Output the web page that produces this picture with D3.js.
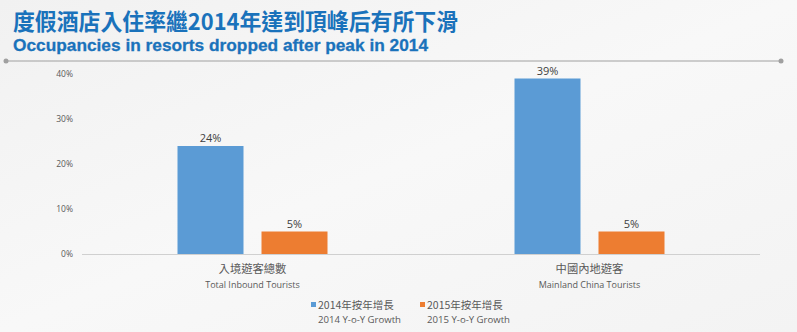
<!DOCTYPE html>
<html>
<head>
<meta charset="utf-8">
<script src="https://cdn.jsdelivr.net/npm/d3@7"></script>
<style>
html,body{margin:0;padding:0;background:#f5f5f5;}
svg{display:block;}
</style>
</head>
<body>
<svg id="chart" width="797" height="332"></svg>
<script>
const categoriesZh = ["入境遊客總數", "中國內地遊客"];
const categoriesEn = ["Total Inbound Tourists", "Mainland China Tourists"];
const seriesZh = ["2014年按年增長", "2015年按年增長"];
const seriesEn = ["2014 Y-o-Y Growth", "2015 Y-o-Y Growth"];
const values2014 = [24, 39];
const values2015 = [5, 5];
const yTicks = [0, 10, 20, 30, 40];
const colors = ["#5b9bd5", "#ed7d31"];

const svg = d3.select("#chart");
const W = 797, H = 332;

const bg = svg.append("defs").append("linearGradient").attr("id","bg").attr("x1",0).attr("y1",0).attr("x2",1).attr("y2",1);
bg.append("stop").attr("offset","0%").attr("stop-color","#f1f1f1");
bg.append("stop").attr("offset","50%").attr("stop-color","#f8f8f8");
bg.append("stop").attr("offset","100%").attr("stop-color","#f3f3f3");
svg.append("rect").attr("width",W).attr("height",H).attr("fill","url(#bg)");

// Titles
svg.append("text").attr("x",13).attr("y",30)
  .attr("font-family","'Noto Sans CJK TC','Noto Sans CJK SC',sans-serif")
  .attr("font-weight","bold").attr("font-size",22.5).attr("fill","#1a72bb")
  .attr("textLength",445).attr("lengthAdjust","spacingAndGlyphs")
  .text("度假酒店入住率繼2014年達到頂峰后有所下滑");
svg.append("text").attr("x",13).attr("y",51)
  .attr("font-family","'Liberation Sans',Arial,sans-serif")
  .attr("font-weight","bold").attr("font-size",17).attr("fill","#1a72bb")
  .attr("stroke","#1a72bb").attr("stroke-width",0.3)
  .attr("textLength",415).attr("lengthAdjust","spacingAndGlyphs")
  .text("Occupancies in resorts dropped after peak in 2014");

// separator
svg.append("line").attr("x1",6).attr("x2",781).attr("y1",61).attr("y2",61)
  .attr("stroke","#a0a0a0").attr("stroke-width",1);
svg.append("circle").attr("cx",6).attr("cy",61).attr("r",2.5).attr("fill","#a0a0a0");
svg.append("circle").attr("cx",781).attr("cy",61).attr("r",2.5).attr("fill","#a0a0a0");

// scales
const y = d3.scaleLinear().domain([0,40]).range([254,74]);
const x0 = d3.scaleBand().domain(categoriesEn).range([84,758]).padding(0);
const x1 = d3.scaleBand().domain(seriesEn).range([0,150]).paddingInner(18/84);
const data = categoriesEn.map((c,i)=>({cat:c, vals:[values2014[i], values2015[i]]}));

// y axis labels
const yAxis = d3.axisLeft(y).tickValues(yTicks).tickFormat(d=>d+"%").tickSize(0).tickPadding(0);
const ya = svg.append("g").attr("transform","translate(73,0)").call(yAxis);
ya.select(".domain").remove();
ya.selectAll("text").attr("font-family","'Open Sans',sans-serif").attr("font-size",8.5).attr("fill","#595959").attr("dy","0.35em");

// baseline
svg.append("line").attr("x1",82).attr("x2",760).attr("y1",y(0)+0.5).attr("y2",y(0)+0.5)
  .attr("stroke","#d0d0d0").attr("stroke-width",1);

// bars
const groups = svg.append("g").selectAll("g").data(data).join("g")
  .attr("transform",d=>`translate(${x0(d.cat)+x0.bandwidth()/2-75},0)`);
groups.selectAll("rect").data(d=>d.vals.map((v,j)=>({v,s:seriesEn[j],j}))).join("rect")
  .attr("x",d=>x1(d.s)).attr("width",x1.bandwidth())
  .attr("y",d=>y(d.v)).attr("height",d=>y(0)-y(d.v))
  .attr("fill",d=>colors[d.j]);
groups.selectAll("text.lbl").data(d=>d.vals.map((v,j)=>({v,s:seriesEn[j],j}))).join("text")
  .attr("class","lbl")
  .attr("x",d=>x1(d.s)+x1.bandwidth()/2).attr("y",d=>y(d.v)-4)
  .attr("text-anchor","middle").attr("font-family","'Open Sans',sans-serif")
  .attr("font-size",11).attr("fill","#404040").text(d=>d.v+"%");

// category labels
categoriesEn.forEach((c,i)=>{
  const cx = x0(c)+x0.bandwidth()/2;
  svg.append("text").attr("x",cx).attr("y",273).attr("text-anchor","middle")
    .attr("font-family","'Noto Sans CJK TC',sans-serif").attr("font-size",11.3).attr("fill","#595959")
    .text(categoriesZh[i]);
  svg.append("text").attr("x",cx).attr("y",288).attr("text-anchor","middle")
    .attr("font-family","'Open Sans',sans-serif").attr("font-size",9).attr("fill","#595959")
    .text(c);
});

// legend
const legX = [311, 420];
seriesEn.forEach((s,i)=>{
  svg.append("rect").attr("x",legX[i]).attr("y",302).attr("width",5).attr("height",5).attr("fill",colors[i]);
  svg.append("text").attr("x",legX[i]+7).attr("y",309)
    .attr("font-family","'Noto Sans CJK TC',sans-serif").attr("font-size",10.5).attr("fill","#595959")
    .text(seriesZh[i]);
  svg.append("text").attr("x",legX[i]+7).attr("y",323)
    .attr("font-family","'Open Sans',sans-serif").attr("font-size",9.6).attr("fill","#595959")
    .text(s);
});
</script>
</body>
</html>
